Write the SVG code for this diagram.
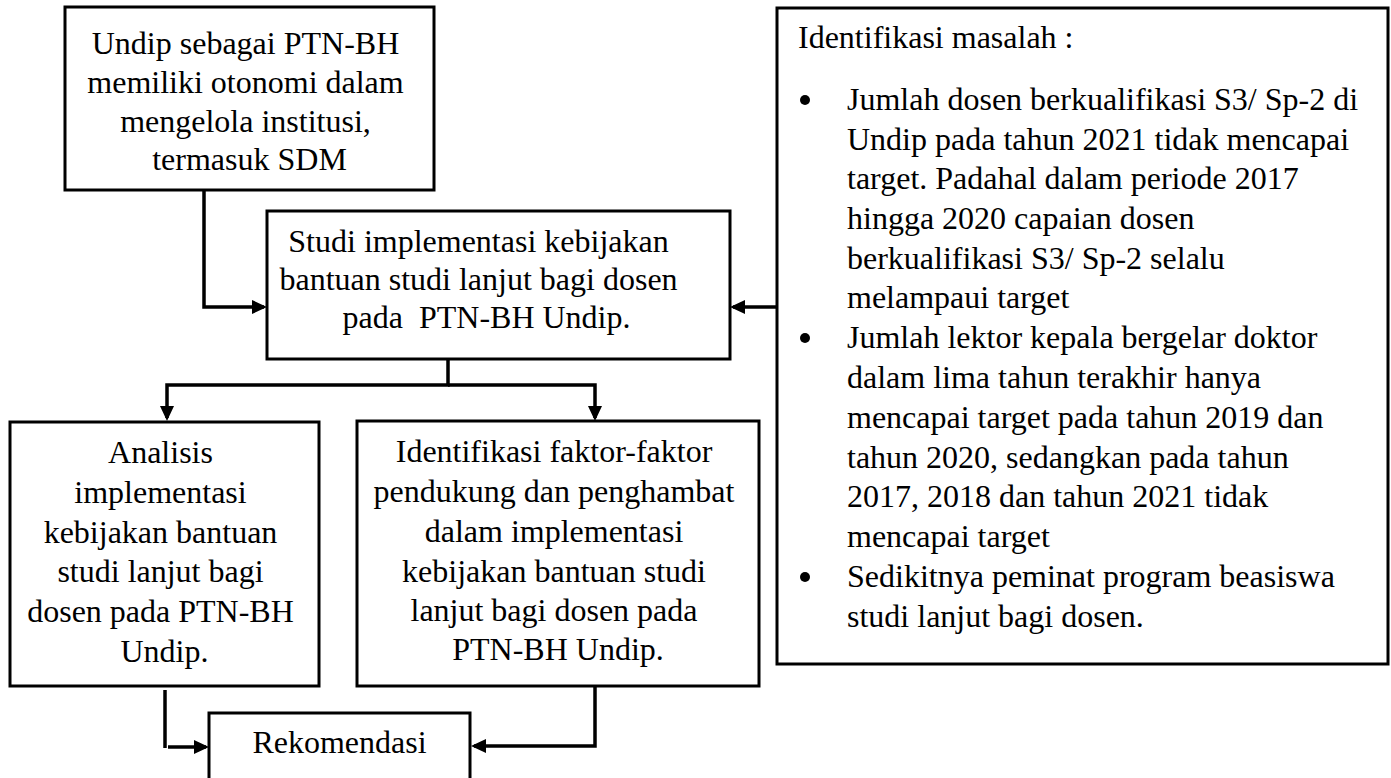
<svg xmlns="http://www.w3.org/2000/svg" width="1391" height="778" viewBox="0 0 1391 778">
<style>
  .box { fill: #ffffff; stroke: #000000; stroke-width: 3; }
  .t { font-family: "Liberation Serif", "Times New Roman", serif; font-size: 32px; fill: #000000; }
  .c { text-anchor: middle; }
  .conn { fill: none; stroke: #000000; stroke-width: 3.5; stroke-linejoin: miter; }
</style>
<defs>
  <marker id="arrow" markerUnits="userSpaceOnUse" markerWidth="16" markerHeight="14" refX="12" refY="7" orient="auto">
    <path d="M0,0 L15,7 L0,14 Z" fill="#000000"/>
  </marker>
</defs>
<rect width="1391" height="778" fill="#ffffff"/>

<g id="node-ptnbh">
  <rect class="box" x="65" y="7" width="369" height="183"/>
  <text class="t c">
    <tspan x="249.5" y="54">Undip sebagai PTN-BH</tspan>
    <tspan x="249.5" y="93">memiliki otonomi dalam</tspan>
    <tspan x="249.5" y="132">mengelola institusi,</tspan>
    <tspan x="249.5" y="170">termasuk SDM</tspan>
  </text>
</g>

<g id="node-studi">
  <rect class="box" x="267" y="211" width="463" height="148"/>
  <text class="t c" xml:space="preserve" style="white-space:pre">
    <tspan x="498.5" y="252">Studi implementasi kebijakan</tspan>
    <tspan x="498.5" y="290">bantuan studi lanjut bagi dosen</tspan>
    <tspan x="498.5" y="328">pada  PTN-BH Undip.</tspan>
  </text>
</g>

<g id="node-masalah">
  <rect class="box" x="777" y="8" width="611" height="656"/>
  <text class="t" x="798" y="48">Identifikasi masalah :</text>
  <circle cx="805" cy="100" r="5"/>
  <circle cx="805" cy="338" r="5"/>
  <circle cx="805" cy="577" r="5"/>
  <text class="t">
    <tspan x="847" y="110">Jumlah dosen berkualifikasi S3/ Sp-2 di</tspan>
    <tspan x="847" y="150">Undip pada tahun 2021 tidak mencapai</tspan>
    <tspan x="847" y="189">target. Padahal dalam periode 2017</tspan>
    <tspan x="847" y="229">hingga 2020 capaian dosen</tspan>
    <tspan x="847" y="269">berkualifikasi S3/ Sp-2 selalu</tspan>
    <tspan x="847" y="308">melampaui target</tspan>
    <tspan x="847" y="348">Jumlah lektor kepala bergelar doktor</tspan>
    <tspan x="847" y="388">dalam lima tahun terakhir hanya</tspan>
    <tspan x="847" y="428">mencapai target pada tahun 2019 dan</tspan>
    <tspan x="847" y="468">tahun 2020, sedangkan pada tahun</tspan>
    <tspan x="847" y="507">2017, 2018 dan tahun 2021 tidak</tspan>
    <tspan x="847" y="547">mencapai target</tspan>
    <tspan x="847" y="587">Sedikitnya peminat program beasiswa</tspan>
    <tspan x="847" y="627">studi lanjut bagi dosen.</tspan>
  </text>
</g>

<g id="node-analisis">
  <rect class="box" x="10" y="422" width="309" height="264"/>
  <text class="t c">
    <tspan x="164.5" y="463">Analisis</tspan>
    <tspan x="164.5" y="503">implementasi</tspan>
    <tspan x="164.5" y="543">kebijakan bantuan</tspan>
    <tspan x="164.5" y="582">studi lanjut bagi</tspan>
    <tspan x="164.5" y="622">dosen pada PTN-BH</tspan>
    <tspan x="164.5" y="662">Undip.</tspan>
  </text>
</g>

<g id="node-faktor">
  <rect class="box" x="357" y="421" width="402" height="265"/>
  <text class="t c">
    <tspan x="558" y="462">Identifikasi faktor-faktor</tspan>
    <tspan x="558" y="502">pendukung dan penghambat</tspan>
    <tspan x="558" y="542">dalam implementasi</tspan>
    <tspan x="558" y="582">kebijakan bantuan studi</tspan>
    <tspan x="558" y="621">lanjut bagi dosen pada</tspan>
    <tspan x="558" y="660">PTN-BH Undip.</tspan>
  </text>
</g>

<g id="node-rekomendasi">
  <rect class="box" x="209" y="713" width="261" height="80"/>
  <text class="t c" x="339.5" y="753">Rekomendasi</text>
</g>

<g id="connectors">
  <path class="conn" d="M204,190 V307 H264" marker-end="url(#arrow)"/>
  <path class="conn" d="M777,307 H733" marker-end="url(#arrow)"/>
  <path class="conn" d="M448,359 V385 H167 V418" marker-end="url(#arrow)"/>
  <path class="conn" d="M448,385 H595 V418" marker-end="url(#arrow)"/>
  <path class="conn" d="M165,690 V748"/>
  <path class="conn" d="M168,747 H206" marker-end="url(#arrow)"/>
  <path class="conn" d="M595,686 V746 H474" marker-end="url(#arrow)"/>
</g>
</svg>
